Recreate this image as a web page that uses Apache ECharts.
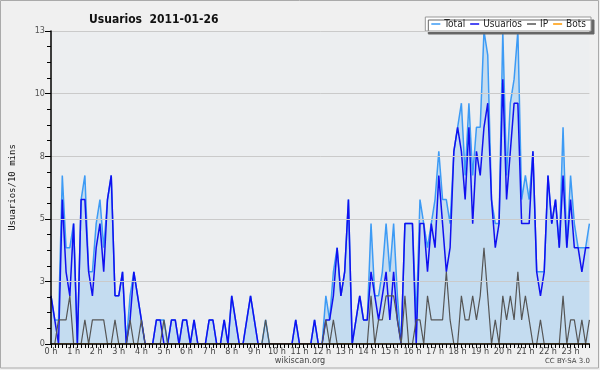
<!DOCTYPE html>
<html><head><meta charset="utf-8">
<script src="https://cdn.jsdelivr.net/npm/echarts@6/dist/echarts.min.js"></script>
<style>html,body{margin:0;padding:0;background:#f0f0f0}#c{width:600px;height:370px}</style>
</head><body><div id="c"></div>
<script>
const hourLabels = ['0 h','1 h','2 h','3 h','4 h','5 h','6 h','7 h','8 h','9 h','10 h','11 h','12 h','13 h','14 h','15 h','16 h','17 h','18 h','19 h','20 h','21 h','22 h','23 h'];
const yTicks = [0, 2.6, 5.2, 7.8, 10.4, 13];
const total = [2,1,1,7,4,4,5,0,6,7,3,3,5,6,4,6,7,2,2,3,0,2,3,2,1,0,0,0,1,1,1,0,1,1,0,1,1,0,1,0,0,0,1,1,0,0,1,0,2,1,0,0,1,2,1,0,0,1,0,0,0,0,0,0,0,1,0,0,0,0,1,0,0,2,1,3,4,2,3,6,0,1,2,1,1,5,2,2,3,5,3,5,2,0,5,5,5,1,6,5,4,5,6,8,6,6,5,8,9,10,7,10,7,9,9,13,12,6,5,5,13,7,10,11,13,6,7,6,8,3,3,3,7,5,6,4,9,4,7,5,4,4,4,5];
const usuarios = [2,1,0,6,3,2,5,0,6,6,3,2,4,5,3,6,7,2,2,3,0,1,3,2,1,0,0,0,1,1,0,0,1,1,0,1,1,0,1,0,0,0,1,1,0,0,1,0,2,1,0,0,1,2,1,0,0,0,0,0,0,0,0,0,0,1,0,0,0,0,1,0,0,1,1,2,4,2,3,6,0,1,2,1,1,3,2,1,2,3,1,3,1,0,5,5,5,0,5,5,3,5,4,7,5,3,4,8,9,8,6,9,5,8,7,9,10,6,4,5,11,6,8,10,10,5,5,5,8,3,2,3,7,5,6,4,7,4,6,4,4,3,4,4];
const ip = [0,0,1,1,1,2,0,0,0,1,0,1,1,1,1,0,0,1,0,0,0,1,0,0,1,0,0,0,0,0,1,0,0,0,0,0,0,0,0,0,0,0,0,0,0,0,0,0,0,0,0,0,0,0,0,0,0,1,0,0,0,0,0,0,0,0,0,0,0,0,0,0,0,1,0,1,0,0,0,0,0,0,0,0,0,2,0,1,1,2,2,2,1,0,2,0,0,1,1,0,2,1,1,1,1,3,1,0,0,2,1,1,2,1,2,4,2,0,1,0,2,1,2,1,3,1,2,1,0,0,1,0,0,0,0,0,2,0,1,1,0,1,0,1];
const bots = new Array(144).fill(0);
const slots = [];
for (let h = 0; h < 24; h++) for (let m = 0; m < 60; m += 10) slots.push(h + ':' + String(m).padStart(2, '0'));

const chart = echarts.init(document.getElementById('c'), null, {renderer: 'canvas'});
const F = '"DejaVu Sans Condensed", "DejaVu Sans"';
chart.setOption({
  backgroundColor: '#f0f0f0',
  animation: false,
  title: {text: 'Usuarios  2011-01-26', left: 84, top: 9,
    textStyle: {fontFamily: F, fontSize: 12, fontWeight: 'bold', color: '#111'}},
  legend: {
    data: ['Total', 'Usuarios', 'IP', 'Bots'], right: 9, top: 17,
    icon: 'rect', itemWidth: 9, itemHeight: 1.5, itemGap: 5,
    padding: [2, 5, 2, 6],
    backgroundColor: '#fff', borderColor: '#999', borderWidth: 1,
    shadowColor: '#666', shadowOffsetX: 3, shadowOffsetY: 3, shadowBlur: 0,
    textStyle: {fontFamily: F, fontSize: 10, color: '#222', padding: [0, 0, 0, -1]}
  },
  grid: {left: 46, top: 31, width: 543.4, height: 313, show: true,
    backgroundColor: '#eceef0', borderWidth: 0},
  xAxis: {
    type: 'category', data: slots, boundaryGap: false, z: 10,
    axisLine: {lineStyle: {color: '#000', width: 1.5}},
    axisTick: {interval: 0, length: 4, lineStyle: {color: '#000'}},
    axisLabel: {interval: 5, margin: 3, fontFamily: F, fontSize: 9, color: '#444',
      formatter: (v, i) => (i % 6 === 0 ? hourLabels[i / 6] : '')},
    splitLine: {show: false}
  },
  yAxis: {
    type: 'value', min: 0, max: 13, interval: 2.6, z: 10,
    name: 'Usuarios/10 mins', nameLocation: 'middle', nameGap: 34, nameRotate: 90,
    nameTextStyle: {fontFamily: 'DejaVu Sans Mono', fontSize: 9, color: '#111'},
    axisLine: {show: true, lineStyle: {color: '#000', width: 1.5}},
    axisTick: {show: true, length: 6, lineStyle: {color: '#000'}},
    minorTick: {show: true, splitNumber: 4, length: 4, lineStyle: {color: '#000'}},
    axisLabel: {margin: 6, fontFamily: F, fontSize: 9, color: '#555',
      formatter: v => String(Math.round(v))},
    splitLine: {show: true, lineStyle: {color: '#cacaca', width: 1}}
  },
  series: [
    {name: 'Total', type: 'line', data: total, symbol: 'none',
      lineStyle: {color: '#3d9bf5', width: 1.5}, itemStyle: {color: '#3d9bf5'},
      areaStyle: {color: '#c4dcf0', opacity: 1}},
    {name: 'Usuarios', type: 'line', data: usuarios, symbol: 'none',
      lineStyle: {color: '#1010f0', width: 1.5}, itemStyle: {color: '#1010f0'}},
    {name: 'IP', type: 'line', data: ip, symbol: 'none',
      lineStyle: {color: '#555', width: 1.2}, itemStyle: {color: '#555'}},
    {name: 'Bots', type: 'line', data: bots, symbol: 'none',
      lineStyle: {color: '#ff9900', width: 1.2}, itemStyle: {color: '#ff9900'}}
  ],
  graphic: [
    {type: 'text', left: 'center', top: 356, style: {text: 'wikiscan.org', font: '9px "DejaVu Sans Condensed", "DejaVu Sans"', fill: '#444'}},
    {type: 'text', right: 10, top: 358, style: {text: 'CC BY-SA 3.0', font: '7px "DejaVu Sans"', fill: '#444'}},
    {type: 'rect', shape: {x: 0.5, y: 0.5, width: 598, height: 367.5}, style: {fill: 'none', stroke: '#aaa', lineWidth: 1}, silent: true, z: 100}
  ]
});
</script></body></html>
